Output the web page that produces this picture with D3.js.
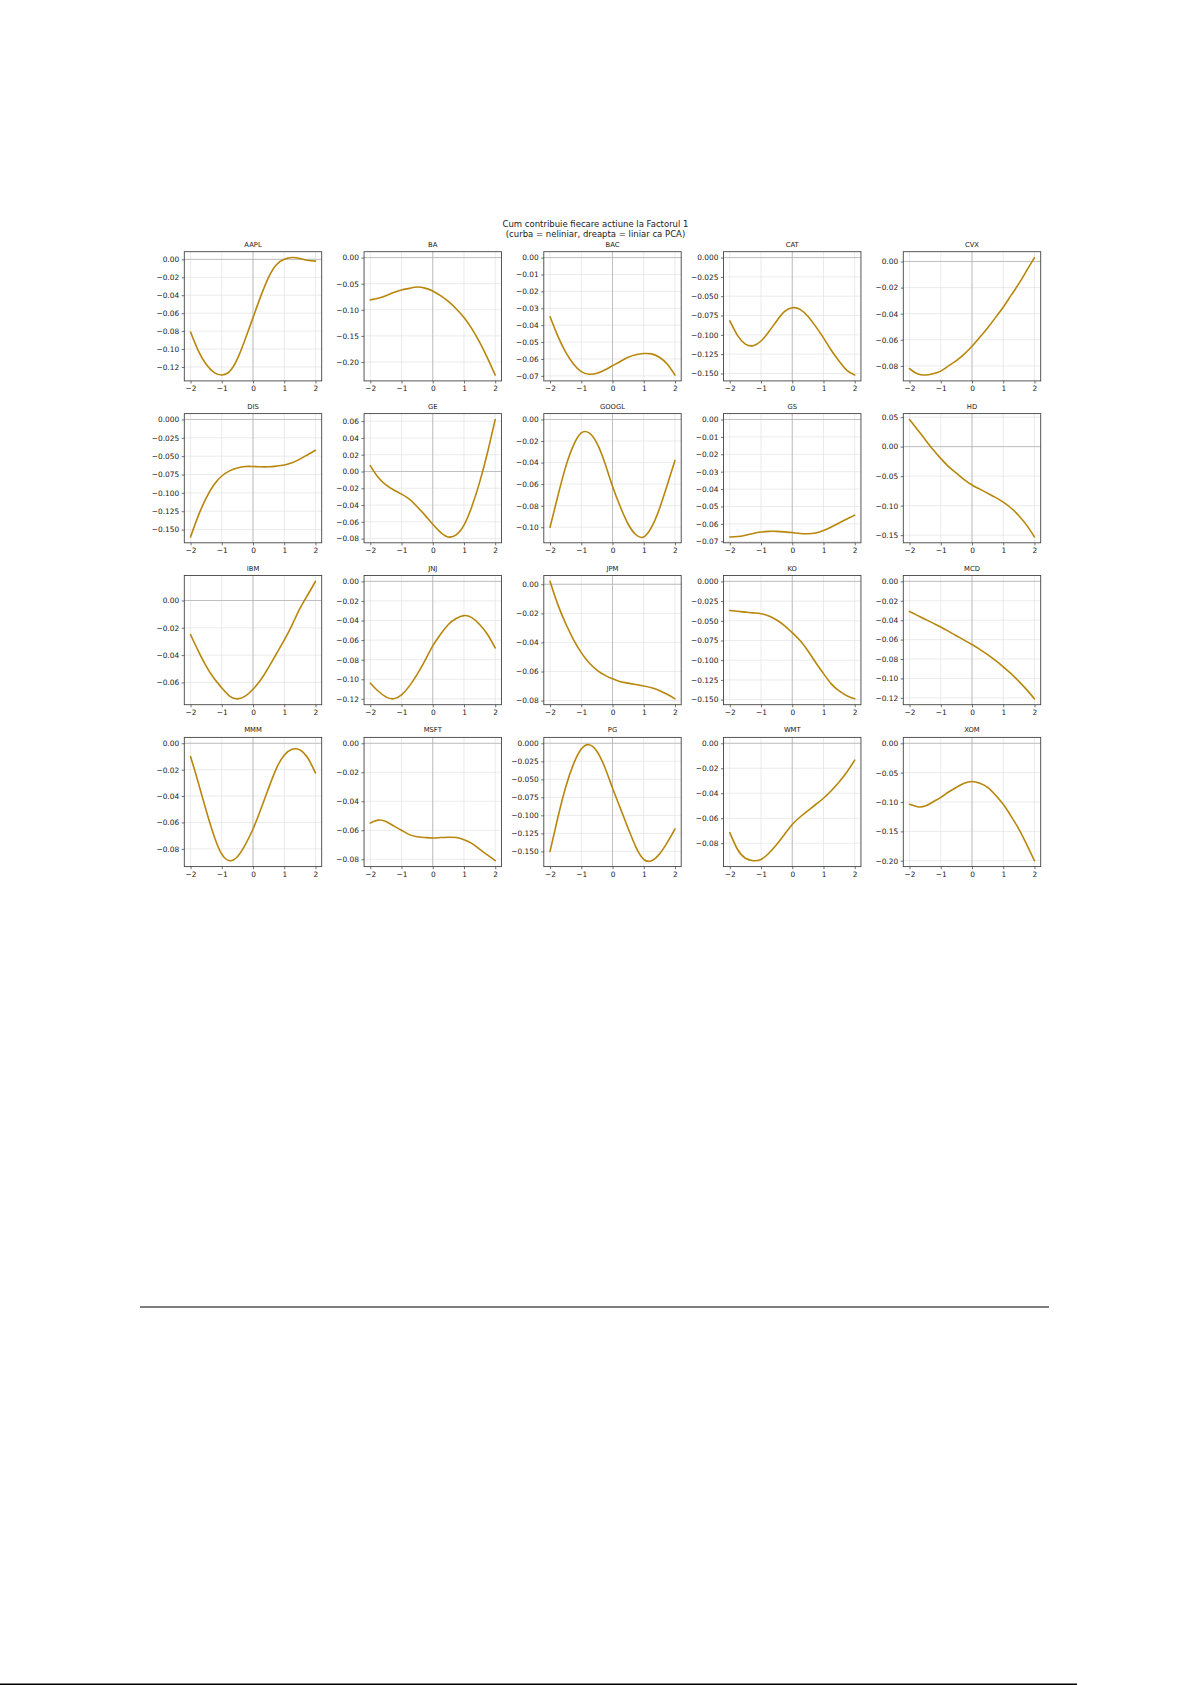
<!DOCTYPE html>
<html>
<head>
<meta charset="utf-8">
<script src="https://cdn.jsdelivr.net/npm/d3@7"></script>
<style>
  html, body { margin: 0; padding: 0; background: #ffffff; }
  svg { display: block; }
  text { font-family: "DejaVu Sans", sans-serif; }
</style>
</head>
<body>
<svg id="chart" width="1192" height="1685"></svg>
<script>
// ---------------- DATA ----------------
const titleLines = ["Cum contribuie fiecare actiune la Factorul 1", "(curba = neliniar, dreapta = liniar ca PCA)"];
const stocks = ["AAPL","BA","BAC","CAT","CVX","DIS","GE","GOOGL","GS","HD","IBM","JNJ","JPM","KO","MCD","MMM","MSFT","PG","WMT","XOM"];
const xs = [-2,-1.75,-1.5,-1.25,-1,-0.75,-0.5,-0.25,0,0.25,0.5,0.75,1,1.25,1.5,1.75,2];
const xTicks = [-2,-1,0,1,2];

const AAPL  = [-0.081,-0.102,-0.117,-0.126,-0.129,-0.125,-0.111,-0.089,-0.065,-0.041,-0.020,-0.006,0.000,0.002,0.001,-0.001,-0.002];
const BA    = [-0.081,-0.078,-0.073,-0.067,-0.062,-0.059,-0.0565,-0.0585,-0.064,-0.073,-0.084,-0.098,-0.115,-0.136,-0.162,-0.192,-0.225];
const BAC   = [-0.035,-0.0465,-0.056,-0.063,-0.0675,-0.069,-0.0685,-0.0665,-0.064,-0.0615,-0.059,-0.0575,-0.0568,-0.057,-0.059,-0.063,-0.0695];
const CAT   = [-0.082,-0.101,-0.112,-0.114,-0.108,-0.096,-0.082,-0.070,-0.065,-0.067,-0.076,-0.089,-0.104,-0.120,-0.134,-0.146,-0.152];
const CVX   = [-0.082,-0.086,-0.087,-0.086,-0.084,-0.080,-0.076,-0.071,-0.065,-0.058,-0.051,-0.043,-0.035,-0.026,-0.017,-0.007,0.003];
const DIS   = [-0.160,-0.131,-0.107,-0.089,-0.077,-0.070,-0.066,-0.064,-0.064,-0.0645,-0.0645,-0.0635,-0.062,-0.059,-0.054,-0.048,-0.042];
const GE    = [0.007,-0.007,-0.016,-0.022,-0.027,-0.033,-0.042,-0.052,-0.063,-0.0725,-0.078,-0.0755,-0.064,-0.042,-0.013,0.022,0.062];
const GOOGL = [-0.100,-0.071,-0.044,-0.024,-0.0125,-0.0125,-0.022,-0.040,-0.062,-0.081,-0.097,-0.107,-0.109,-0.100,-0.083,-0.061,-0.038];
const GS    = [-0.0675,-0.0673,-0.0665,-0.0655,-0.0647,-0.0643,-0.0643,-0.0646,-0.065,-0.0655,-0.0657,-0.0652,-0.0638,-0.0618,-0.0595,-0.0572,-0.055];
const HD    = [0.046,0.029,0.012,-0.005,-0.020,-0.034,-0.045,-0.056,-0.065,-0.072,-0.079,-0.086,-0.094,-0.104,-0.117,-0.133,-0.153];
const IBM   = [-0.025,-0.037,-0.048,-0.057,-0.064,-0.070,-0.072,-0.070,-0.065,-0.058,-0.049,-0.039,-0.029,-0.018,-0.006,0.004,0.014];
const JNJ   = [-0.104,-0.112,-0.118,-0.120,-0.116,-0.107,-0.095,-0.081,-0.066,-0.054,-0.044,-0.038,-0.035,-0.037,-0.044,-0.054,-0.068];
const JPM   = [0.002,-0.014,-0.027,-0.038,-0.047,-0.054,-0.059,-0.0625,-0.065,-0.067,-0.068,-0.069,-0.070,-0.0712,-0.073,-0.0757,-0.0788];
const KO    = [-0.037,-0.038,-0.039,-0.040,-0.041,-0.044,-0.049,-0.056,-0.065,-0.075,-0.088,-0.103,-0.117,-0.130,-0.139,-0.145,-0.149];
const MCD   = [-0.031,-0.035,-0.039,-0.043,-0.047,-0.0515,-0.056,-0.0605,-0.065,-0.070,-0.0755,-0.0815,-0.088,-0.095,-0.103,-0.1115,-0.121];
const MMM   = [-0.010,-0.030,-0.051,-0.070,-0.084,-0.089,-0.086,-0.077,-0.065,-0.050,-0.034,-0.019,-0.009,-0.0045,-0.005,-0.011,-0.0225];
const MSFT  = [-0.055,-0.053,-0.054,-0.057,-0.060,-0.063,-0.0645,-0.065,-0.0653,-0.065,-0.0648,-0.065,-0.0665,-0.069,-0.073,-0.077,-0.081];
const PG    = [-0.150,-0.103,-0.061,-0.029,-0.008,-0.002,-0.011,-0.033,-0.062,-0.090,-0.118,-0.144,-0.161,-0.163,-0.154,-0.138,-0.119];
const WMT   = [-0.0715,-0.085,-0.092,-0.094,-0.093,-0.088,-0.081,-0.073,-0.065,-0.059,-0.054,-0.049,-0.044,-0.038,-0.031,-0.023,-0.0135];
const XOM   = [-0.104,-0.108,-0.107,-0.100,-0.092,-0.083,-0.075,-0.068,-0.065,-0.068,-0.075,-0.088,-0.104,-0.124,-0.146,-0.172,-0.200];

const series = [AAPL,BA,BAC,CAT,CVX,DIS,GE,GOOGL,GS,HD,IBM,JNJ,JPM,KO,MCD,MMM,MSFT,PG,WMT,XOM];

const yTicks = [
  [0,-0.02,-0.04,-0.06,-0.08,-0.10,-0.12],
  [0,-0.05,-0.10,-0.15,-0.20],
  [0,-0.01,-0.02,-0.03,-0.04,-0.05,-0.06,-0.07],
  [0,-0.025,-0.05,-0.075,-0.10,-0.125,-0.15],
  [0,-0.02,-0.04,-0.06,-0.08],
  [0,-0.025,-0.05,-0.075,-0.10,-0.125,-0.15],
  [0.06,0.04,0.02,0,-0.02,-0.04,-0.06,-0.08],
  [0,-0.02,-0.04,-0.06,-0.08,-0.10],
  [0,-0.01,-0.02,-0.03,-0.04,-0.05,-0.06,-0.07],
  [0.05,0,-0.05,-0.10,-0.15],
  [0,-0.02,-0.04,-0.06],
  [0,-0.02,-0.04,-0.06,-0.08,-0.10,-0.12],
  [0,-0.02,-0.04,-0.06,-0.08],
  [0,-0.025,-0.05,-0.075,-0.10,-0.125,-0.15],
  [0,-0.02,-0.04,-0.06,-0.08,-0.10,-0.12],
  [0,-0.02,-0.04,-0.06,-0.08],
  [0,-0.02,-0.04,-0.06,-0.08],
  [0,-0.025,-0.05,-0.075,-0.10,-0.125,-0.15],
  [0,-0.02,-0.04,-0.06,-0.08],
  [0,-0.05,-0.10,-0.15,-0.20]
];
const yTickDecimals = [2,2,2,3,2,3,2,2,2,2,2,2,2,3,2,2,2,3,2,2];

// ---------------- LAYOUT ----------------
const svg = d3.select("#chart");
svg.append("rect").attr("width",1192).attr("height",1685).attr("fill","#ffffff");

const ncols = 5;
const left0 = 184.3, colStep = 179.75, panelW = 137.4;
const top0 = 251.7, rowStep = 161.9, panelH = 129.2;
const lineColor = "#b8860b";
const tickFont = 7.4;

// Main title
const titleG = svg.append("g").attr("text-anchor","middle").attr("font-size",8.5).attr("fill","#1a1a1a");
titleLines.forEach((t,i) => {
  titleG.append("text").attr("x",595.5).attr("y",227 + i*9.6).text(t);
});

stocks.forEach((name, i) => {
  const r = Math.floor(i / ncols), c = i % ncols;
  const x0 = left0 + c*colStep, y0 = top0 + r*rowStep;
  const vals = series[i];

  const lo = Math.min(0, d3.min(vals)), hi = Math.max(0, d3.max(vals));
  const pad = (hi - lo) * 0.05;

  const xScale = d3.scaleLinear().domain([-2.2, 2.2]).range([x0, x0 + panelW]);
  const yScale = d3.scaleLinear().domain([lo - pad, hi + pad]).range([y0 + panelH, y0]);

  const g = svg.append("g");

  // grid
  const grid = g.append("g").attr("stroke","#e3e3e3").attr("stroke-width",0.7);
  xTicks.forEach(t => grid.append("line")
    .attr("x1",xScale(t)).attr("x2",xScale(t)).attr("y1",y0).attr("y2",y0+panelH));
  yTicks[i].forEach(t => grid.append("line")
    .attr("y1",yScale(t)).attr("y2",yScale(t)).attr("x1",x0).attr("x2",x0+panelW));

  // zero reference lines
  g.append("line").attr("x1",x0).attr("x2",x0+panelW)
    .attr("y1",yScale(0)).attr("y2",yScale(0))
    .attr("stroke","#b4b4b4").attr("stroke-width",0.8);
  g.append("line").attr("x1",xScale(0)).attr("x2",xScale(0))
    .attr("y1",y0).attr("y2",y0+panelH)
    .attr("stroke","#b4b4b4").attr("stroke-width",0.8);

  // curve
  const line = d3.line()
    .x((d,j) => xScale(xs[j]))
    .y(d => yScale(d))
    .curve(d3.curveNatural);
  g.append("path").datum(vals).attr("d", line)
    .attr("fill","none").attr("stroke",lineColor).attr("stroke-width",1.6)
    .attr("stroke-linejoin","round").attr("stroke-linecap","round");

  // axes
  const xAxis = d3.axisBottom(xScale).tickValues(xTicks)
    .tickFormat(d3.format("d")).tickSize(2.6).tickPadding(2.4);
  const yAxis = d3.axisLeft(yScale).tickValues(yTicks[i])
    .tickFormat(d3.format("." + yTickDecimals[i] + "f")).tickSize(2.6).tickPadding(2.6);

  const gx = g.append("g").attr("transform",`translate(0,${y0+panelH})`).call(xAxis);
  const gy = g.append("g").attr("transform",`translate(${x0},0)`).call(yAxis);
  [gx, gy].forEach(a => {
    a.select(".domain").remove();
    a.selectAll(".tick line").attr("stroke","#333").attr("stroke-width",0.7);
    a.selectAll(".tick text").attr("font-size",tickFont).attr("fill","#1a1a1a")
      .attr("font-family","DejaVu Sans, sans-serif");
  });

  // frame (spines)
  g.append("rect").attr("x",x0).attr("y",y0).attr("width",panelW).attr("height",panelH)
    .attr("fill","none").attr("stroke","#444").attr("stroke-width",0.9);

  // panel title
  g.append("text").attr("x",x0 + panelW/2).attr("y",y0 - 5)
    .attr("text-anchor","middle").attr("font-size",6.8).attr("fill","#1a1a1a").text(name);
});

// page rules
svg.append("line").attr("x1",140).attr("x2",1049).attr("y1",1307).attr("y2",1307)
  .attr("stroke","#000").attr("stroke-width",1.2);
svg.append("line").attr("x1",0).attr("x2",1077).attr("y1",1684.3).attr("y2",1684.3)
  .attr("stroke","#000").attr("stroke-width",1.4);
</script>
</body>
</html>
